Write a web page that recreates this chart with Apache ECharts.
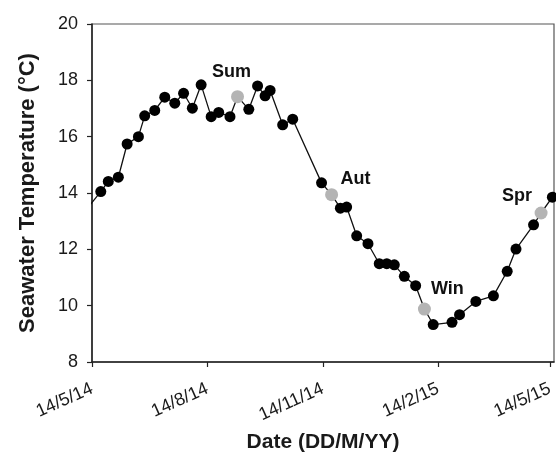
<!DOCTYPE html>
<html>
<head>
<meta charset="utf-8">
<script src="https://cdn.jsdelivr.net/npm/echarts@6/dist/echarts.min.js"></script>
<style>
  html, body { margin: 0; padding: 0; background: #fff; }
  #chart { width: 556px; height: 456px; }
</style>
</head>
<body>
<div id="chart"></div>
<script>
// weekly-ish samples
const dates = [
  '2014-05-11', '2014-05-21', '2014-05-27', '2014-06-04', '2014-06-11', '2014-06-20',
  '2014-06-25', '2014-07-03', '2014-07-11', '2014-07-19', '2014-07-26', '2014-08-02',
  '2014-08-09', '2014-08-17', '2014-08-23', '2014-09-01', '2014-09-16', '2014-09-23',
  '2014-09-29', '2014-10-03', '2014-10-13', '2014-10-21', '2014-11-13', '2014-11-28',
  '2014-12-03', '2014-12-11', '2014-12-20', '2014-12-29', '2015-01-04', '2015-01-10',
  '2015-01-18', '2015-01-27', '2015-02-10', '2015-02-25', '2015-03-03', '2015-03-16',
  '2015-03-30', '2015-04-10', '2015-04-17', '2015-05-01', '2015-05-16'
]
const temps = [
  13.5, 14.05, 14.41, 14.56, 15.74, 16.0,
  16.74, 16.93, 17.4, 17.19, 17.54, 17.01,
  17.84, 16.71, 16.86, 16.71, 16.97, 17.8,
  17.45, 17.64, 16.42, 16.62, 14.36, 13.46,
  13.5, 12.48, 12.2, 11.49, 11.49, 11.45,
  11.04, 10.71, 9.33, 9.41, 9.68, 10.15,
  10.35, 11.22, 12.01, 12.87, 13.85
]

// season sampling points (grey)
const seasonNames = ['Sum', 'Aut', 'Win', 'Spr']
const seasonDates = ['2014-09-07', '2014-11-21', '2015-02-03', '2015-05-07']
const seasonTemps = [17.42, 13.94, 9.88, 13.29]

const tickDates = ['2014-05-14', '2014-08-14', '2014-11-14', '2015-02-14', '2015-05-14']
const yMin = 8
const yMax = 20
const yStep = 2

const ts = s => +echarts.time.parse(s)
const DAY = 24 * 3600 * 1000

const labelOffsets = [[-6, -25], [24, -16], [23, -20], [-24, -17]]

const regular = dates.map((d, i) => [ts(d), temps[i]])
const seasons = seasonDates.map((d, i) => [ts(d), seasonTemps[i]])
const linePts = regular.concat(seasons).sort((a, b) => a[0] - b[0])

const fmtDate = v => {
  const d = new Date(v)
  return d.getDate() + '/' + (d.getMonth() + 1) + '/' + String(d.getFullYear()).slice(2)
}

const tickVals = tickDates.map(ts)
const font = '"Liberation Sans", Arial, sans-serif'

const myChart = echarts.init(document.getElementById('chart'))
const option = {
  animation: false,
  grid: {
    left: 92, right: 2, top: 24, bottom: 94,
    outerBoundsMode: 'none',
    show: true,
    borderColor: '#555',
    borderWidth: 1.2
  },
  xAxis: {
    type: 'value',
    min: ts(tickDates[0]),
    max: ts(tickDates[0]) + 368.3 * DAY,
    name: 'Date (DD/M/YY)',
    nameLocation: 'middle',
    nameGap: 70,
    nameTextStyle: { fontFamily: font, fontWeight: 'bold', fontSize: 21, color: '#1a1a1a' },
    axisLine: { lineStyle: { color: '#222', width: 1.5 } },
    axisTick: { show: true, length: 5, lineStyle: { color: '#222', width: 1.2 }, customValues: tickVals },
    axisLabel: {
      customValues: tickVals,
      formatter: fmtDate,
      rotate: 24,
      margin: 26,
      fontFamily: font,
      fontSize: 18,
      color: '#1a1a1a'
    },
    splitLine: { show: false }
  },
  yAxis: {
    type: 'value',
    min: yMin,
    max: yMax,
    interval: yStep,
    name: 'Seawater Temperature (°C)',
    nameLocation: 'middle',
    nameGap: 53,
    nameTextStyle: { fontFamily: font, fontWeight: 'bold', fontSize: 22, color: '#1a1a1a' },
    axisLine: { show: true, lineStyle: { color: '#222', width: 1.5 } },
    axisTick: { show: true, length: 5, lineStyle: { color: '#222', width: 1.2 } },
    axisLabel: { margin: 14, fontFamily: font, fontSize: 18, color: '#1a1a1a' },
    splitLine: { show: false }
  },
  series: [
    {
      type: 'line',
      data: linePts,
      symbol: 'none',
      lineStyle: { color: '#111', width: 1.3 },
      z: 2
    },
    {
      type: 'scatter',
      data: regular,
      symbolSize: 11,
      itemStyle: { color: '#000', opacity: 1 },
      z: 3
    },
    {
      type: 'scatter',
      data: seasons.map((p, i) => ({
        value: p,
        label: {
          show: true,
          formatter: seasonNames[i],
          position: 'inside',
          offset: labelOffsets[i]
        }
      })),
      symbolSize: 13,
      itemStyle: { color: '#b4b4b4', opacity: 1 },
      label: { fontFamily: font, fontWeight: 'bold', fontSize: 18, color: '#111' },
      z: 4
    }
  ]
}
myChart.setOption(option)
</script>
</body>
</html>
